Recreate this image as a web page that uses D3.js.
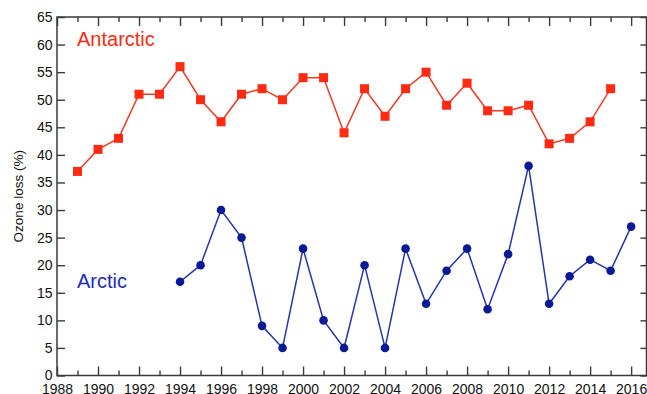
<!DOCTYPE html>
<html>
<head>
<meta charset="utf-8">
<script src="https://cdn.jsdelivr.net/npm/d3@7"></script>
<style>
  html, body { margin: 0; padding: 0; background: #fff; }
  svg { display: block; }
  text { font-family: "Liberation Sans", Arial, Helvetica, sans-serif; }
</style>
</head>
<body>
<svg id="chart" width="647" height="394"></svg>
<script>
const antarcticYears = [1989,1990,1991,1992,1993,1994,1995,1996,1997,1998,1999,2000,2001,2002,2003,2004,2005,2006,2007,2008,2009,2010,2011,2012,2013,2014,2015];
const antarcticLoss  = [37,41,43,51,51,56,50,46,51,52,50,54,54,44,52,47,52,55,49,53,48,48,49,42,43,46,52];
const arcticYears = [1994,1995,1996,1997,1998,1999,2000,2001,2002,2003,2004,2005,2006,2007,2008,2009,2010,2011,2012,2013,2014,2015,2016];
const arcticLoss  = [17,20,30,25,9,5,23,10,5,20,5,23,13,19,23,12,22,38,13,18,21,19,27];
const xMajorTicks = [1988,1990,1992,1994,1996,1998,2000,2002,2004,2006,2008,2010,2012,2014,2016];
const xMinorTicks = [1989,1991,1993,1995,1997,1999,2001,2003,2005,2007,2009,2011,2013,2015];
const yTicks = [0,5,10,15,20,25,30,35,40,45,50,55,60,65];

const svg = d3.select("#chart");
const mLeft = 57, mRight = 646.5, mTop = 17, mBottom = 375.5;
const x = d3.scaleLinear().domain([1988, 2016.75]).range([mLeft, mRight]);
const y = d3.scaleLinear().domain([0, 65]).range([mBottom, mTop]);
const axisColor = "#3a3a3a";

function styleAxis(g) {
  g.select(".domain").remove();
  g.selectAll(".tick line").attr("stroke", axisColor).attr("stroke-width", 1.4);
  g.selectAll(".tick text").attr("fill", "#111").style("font-size", "14px")
    .style("font-family", "'Liberation Sans', Arial, sans-serif");
}

// bottom axis (major with labels)
svg.append("g").attr("transform", `translate(0,${mBottom})`)
  .call(d3.axisBottom(x).tickValues(xMajorTicks).tickFormat(d3.format("d")).tickSize(-9).tickPadding(9))
  .call(styleAxis);
svg.append("g").attr("transform", `translate(0,${mBottom})`)
  .call(d3.axisBottom(x).tickValues(xMinorTicks).tickFormat("").tickSize(-5))
  .call(styleAxis);
// top axis
svg.append("g").attr("transform", `translate(0,${mTop})`)
  .call(d3.axisTop(x).tickValues(xMajorTicks).tickFormat("").tickSize(-9))
  .call(styleAxis);
svg.append("g").attr("transform", `translate(0,${mTop})`)
  .call(d3.axisTop(x).tickValues(xMinorTicks).tickFormat("").tickSize(-5))
  .call(styleAxis);
// left axis
svg.append("g").attr("transform", `translate(${mLeft},0)`)
  .call(d3.axisLeft(y).tickValues(yTicks).tickFormat(d3.format("d")).tickSize(-8).tickPadding(4.5))
  .call(styleAxis);
// right axis
svg.append("g").attr("transform", `translate(${mRight},0)`)
  .call(d3.axisRight(y).tickValues(yTicks).tickFormat("").tickSize(-6))
  .call(styleAxis);

// frame
svg.append("rect").attr("x", mLeft).attr("y", mTop)
  .attr("width", mRight - mLeft).attr("height", mBottom - mTop)
  .attr("fill", "none").attr("stroke", axisColor).attr("stroke-width", 1.5);

// y axis title
svg.append("text")
  .attr("transform", `translate(18.5,${(mTop + mBottom) / 2}) rotate(-90)`)
  .attr("text-anchor", "middle").attr("dy", "0.35em")
  .style("font-size", "13.5px").attr("fill", "#111")
  .text("Ozone loss (%)");

const ant = antarcticYears.map((d, i) => ({ yr: d, v: antarcticLoss[i] }));
const arc = arcticYears.map((d, i) => ({ yr: d, v: arcticLoss[i] }));
const line = d3.line().x(d => x(d.yr)).y(d => y(d.v));

const red = "#ff2a12";
const blueLine = "#2535ad";
const blueMark = "#0a1a96";

svg.append("path").datum(ant).attr("d", line)
  .attr("fill", "none").attr("stroke", "#f03a28").attr("stroke-width", 1.5);
svg.selectAll("rect.ant").data(ant).enter().append("rect").attr("class", "ant")
  .attr("x", d => x(d.yr) - 4.5).attr("y", d => y(d.v) - 4.5)
  .attr("width", 9).attr("height", 9).attr("fill", red);

svg.append("path").datum(arc).attr("d", line)
  .attr("fill", "none").attr("stroke", blueLine).attr("stroke-width", 1.5);
svg.selectAll("circle.arc").data(arc).enter().append("circle").attr("class", "arc")
  .attr("cx", d => x(d.yr)).attr("cy", d => y(d.v)).attr("r", 4.3).attr("fill", blueMark);

svg.append("text").attr("x", 77).attr("y", 45.5)
  .style("font-size", "20px").attr("fill", red).text("Antarctic");
svg.append("text").attr("x", 77).attr("y", 287.5)
  .style("font-size", "20px").attr("fill", "#1b2bbd").text("Arctic");
</script>
</body>
</html>
